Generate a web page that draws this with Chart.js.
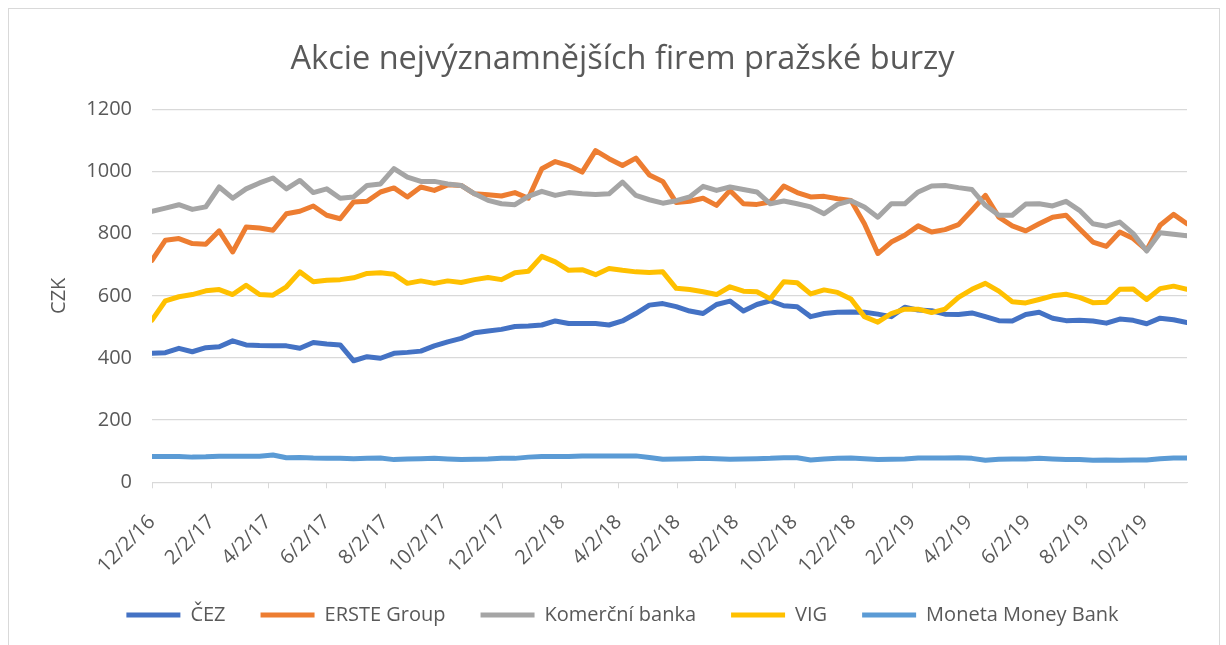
<!DOCTYPE html>
<html>
<head>
<meta charset="utf-8">
<script src="https://cdn.jsdelivr.net/npm/chart.js@4.4.1/dist/chart.umd.min.js"></script>
<style>
  html, body { margin: 0; padding: 0; background: #fff; }
  #frame { position: absolute; left: 8px; top: 8px; width: 1210px; height: 660px; border: 1px solid #d9d9d9; }
  #wrap { position: absolute; left: 0; top: 0; width: 1226px; height: 645px; }
</style>
</head>
<body>
<div id="frame"></div>
<div id="wrap"><canvas id="chart"></canvas></div>
<script>
// biweekly closing prices (CZK), first point 2 Dec 2016
const startDate = Date.UTC(2016, 11, 2);
const stepDays = 14;

const cez = [415, 417, 431, 420, 433, 436, 455, 442, 440, 439,
  439, 431, 450, 445, 442, 391, 404, 399, 415, 418,
  422, 439, 452, 463, 481, 487, 492, 501, 503, 506,
  519, 511, 511, 511, 506, 519, 543, 570, 575, 565,
  551, 543, 572, 583, 551, 572, 584, 568, 565, 533,
  543, 547, 548, 547, 541, 533, 563, 554, 552, 541,
  540, 545, 533, 520, 519, 540, 547, 528, 520, 521,
  519, 512, 525, 521, 510, 528, 523, 514];

const erste = [714, 779, 784, 768, 766, 809, 741, 821, 818, 811,
  864, 872, 889, 859, 848, 902, 904, 934, 947, 918,
  950, 939, 957, 955, 928, 925, 921, 932, 914, 1009,
  1032, 1019, 998, 1067, 1041, 1019, 1043, 989, 968, 900,
  904, 914, 891, 939, 896, 894, 902, 953, 932, 918,
  920, 912, 907, 832, 736, 773, 795, 825, 805, 813,
  829, 875, 923, 853, 825, 809, 832, 853, 859, 816,
  773, 759, 805, 784, 747, 827, 862, 832];

const komercni = [872, 882, 893, 878, 886, 950, 914, 944, 963, 979,
  944, 971, 932, 944, 914, 918, 955, 960, 1009, 982,
  968, 968, 960, 955, 928, 907, 896, 893, 920, 936,
  923, 932, 928, 926, 928, 966, 923, 909, 898, 906,
  918, 952, 939, 950, 942, 934, 896, 905, 896, 886,
  864, 894, 906, 886, 853, 896, 896, 934, 953, 955,
  948, 942, 891, 859, 859, 895, 896, 889, 904, 875,
  832, 824, 837, 800, 744, 803, 798, 793];

const vig = [522, 584, 597, 604, 616, 620, 604, 634, 604, 602,
  629, 677, 645, 650, 652, 658, 672, 674, 669, 640,
  648, 640, 648, 643, 652, 659, 652, 674, 679, 727,
  709, 682, 684, 668, 688, 682, 677, 675, 677, 624,
  620, 613, 604, 629, 615, 613, 590, 645, 642, 606,
  619, 611, 590, 533, 515, 543, 557, 557, 546, 557,
  595, 621, 640, 615, 581, 577, 588, 600, 605, 595,
  578, 579, 621, 622, 588, 623, 631, 621];

const moneta = [83, 83, 83, 81, 82, 84, 84, 84, 84, 88,
  79, 80, 78, 77, 77, 76, 77, 78, 73, 75,
  76, 77, 75, 73, 74, 75, 77, 77, 81, 83,
  83, 83, 85, 85, 85, 85, 85, 80, 74, 75,
  76, 77, 76, 74, 75, 76, 77, 79, 79, 72,
  75, 77, 78, 76, 73, 74, 75, 78, 78, 78,
  79, 77, 71, 74, 75, 75, 77, 75, 73, 73,
  71, 72, 71, 72, 72, 76, 78, 78];

const tickLabels = ['12/2/16', '2/2/17', '4/2/17', '6/2/17', '8/2/17', '10/2/17',
  '12/2/17', '2/2/18', '4/2/18', '6/2/18', '8/2/18', '10/2/18',
  '12/2/18', '2/2/19', '4/2/19', '6/2/19', '8/2/19', '10/2/19'];

const seriesNames = ['ČEZ', 'ERSTE Group', 'Komerční banka', 'VIG', 'Moneta Money Bank'];
const seriesColors = ['#4472C4', '#ED7D31', '#A5A5A5', '#FFC000', '#5B9BD5'];

// day offset from the first data point for an M/D/YY label
function labelToDay(label) {
  const [m, d, y] = label.split('/').map(Number);
  return Math.round((Date.UTC(2000 + y, m - 1, d) - startDate) / 86400000);
}
const tickDays = tickLabels.map(labelToDay);

const textColor = '#595959';
const gridColor = '#d9d9d9';
const fontFamily = "'Open Sans', 'Noto Sans', sans-serif";

const datasets = [cez, erste, komercni, vig, moneta].map((values, s) => ({
  label: seriesNames[s],
  data: values.map((v, i) => ({ x: i * stepDays, y: v })),
  borderColor: seriesColors[s],
  backgroundColor: seriesColors[s],
  borderWidth: 5,
  borderJoinStyle: 'round',
  borderCapStyle: 'round',
  pointRadius: 0,
  tension: 0,
  order: 5 - s
}));

const ctx = document.getElementById('chart').getContext('2d');
new Chart(ctx, {
  type: 'line',
  data: { datasets: datasets },
  options: {
    responsive: true,
    maintainAspectRatio: false,
    animation: false,
    devicePixelRatio: 1,
    layout: { padding: { left: 58, right: 39, top: 0, bottom: 10 } },
    plugins: {
      tooltip: { enabled: false },
      title: {
        display: true,
        text: 'Akcie nejvýznamnějších firem pražské burzy',
        color: textColor,
        font: { family: fontFamily, size: 32.5, weight: 'normal' },
        padding: { top: 40, bottom: 30.3 }
      },
      legend: {
        position: 'bottom',
        labels: {
          color: textColor,
          font: { family: fontFamily, size: 20 },
          boxWidth: 54,
          boxHeight: 5,
          padding: 35,
          useBorderRadius: true,
          borderRadius: 2.5,
          generateLabels: function(chart) {
            return chart.data.datasets.map((ds, i) => ({
              text: ds.label,
              fillStyle: ds.borderColor,
              strokeStyle: ds.borderColor,
              lineWidth: 0,
              fontColor: textColor,
              hidden: false,
              datasetIndex: i
            }));
          }
        }
      }
    },
    scales: {
      x: {
        type: 'linear',
        min: 0,
        max: (cez.length - 1) * stepDays,
        afterBuildTicks: function(scale) {
          scale.ticks = tickDays.map(d => ({ value: d }));
        },
        afterFit: function(scale) {
          scale.height = 87.7;
        },
        ticks: {
          autoSkip: false,
          minRotation: 45,
          maxRotation: 45,
          color: textColor,
          font: { family: fontFamily, size: 20 },
          padding: 22,
          callback: function(value, index) {
            return tickLabels[index];
          }
        },
        grid: {
          drawOnChartArea: false,
          drawTicks: true,
          tickLength: 6,
          color: gridColor
        },
        border: { display: true, color: gridColor, width: 1 }
      },
      y: {
        min: 0,
        max: 1200,
        afterFit: function(scale) {
          scale.width = 94;
        },
        ticks: {
          stepSize: 200,
          color: textColor,
          font: { family: fontFamily, size: 20 },
          padding: 20,
          callback: function(value) {
            return String(value);
          }
        },
        grid: { color: gridColor, drawTicks: false, lineWidth: 1.3 },
        border: { display: false },
        title: {
          display: true,
          text: 'CZK',
          color: textColor,
          font: { family: fontFamily, size: 20 },
          padding: { top: -11, bottom: 0 }
        }
      }
    }
  }
});
</script>
</body>
</html>
